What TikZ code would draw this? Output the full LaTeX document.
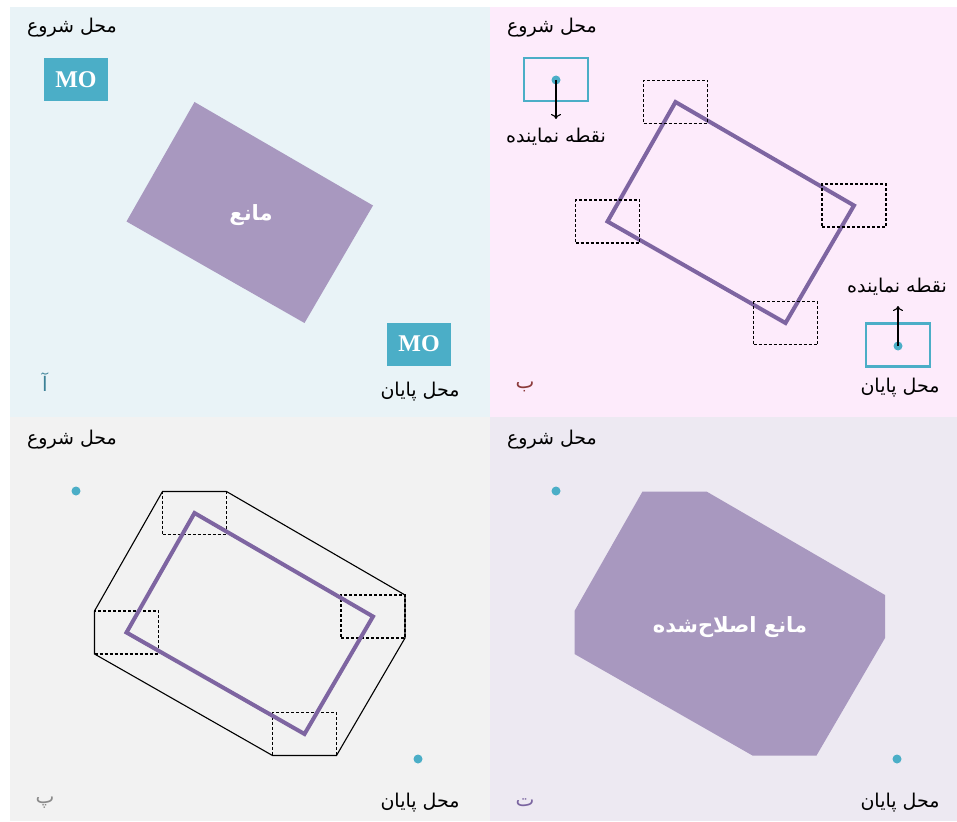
\documentclass[tikz,border=0pt]{standalone}
\usepackage{fontspec}
\TeXXeTstate=1
\newfontfamily\fa[Script=Arabic]{DejaVu Sans}
\newfontfamily\moserif{Liberation Serif}
\usetikzlibrary{arrows.meta,calc}
\definecolor{bgA}{HTML}{E9F3F7}
\definecolor{bgB}{HTML}{FDEBFB}
\definecolor{bgC}{HTML}{F2F2F2}
\definecolor{bgD}{HTML}{EDE9F2}
\definecolor{obs}{HTML}{A898BF}
\definecolor{obsline}{HTML}{7E65A1}
\definecolor{tealc}{HTML}{4BAEC7}
\definecolor{letA}{HTML}{3C8197}
\definecolor{letB}{HTML}{8B3A3A}
\definecolor{letC}{HTML}{8A8A8A}
\definecolor{letD}{HTML}{7A64A0}
\tikzset{
  fatext/.style={font=\fa\fontsize{19}{22}\selectfont, text=black, inner sep=0pt},
  obstext/.style={font=\fa\bfseries\fontsize{21}{24}\selectfont, text=white, inner sep=0pt},
  lettext/.style={font=\fa\fontsize{20}{22}\selectfont, inner sep=0pt},
  mobox/.style={fill=tealc, minimum width=64pt, minimum height=43pt, inner sep=0pt, text=white, font=\moserif\bfseries\fontsize{24}{24}\selectfont},
  robox/.style={draw=tealc, line width=2.2pt, minimum width=64pt, minimum height=43pt, inner sep=0pt},
  cornerbox/.style={draw=black, line width=1.6pt, dash pattern=on 3pt off 2pt, minimum width=64pt, minimum height=43pt, inner sep=0pt, outer sep=0pt},
  hullbox/.style={minimum width=64pt, minimum height=43pt, inner sep=0pt, outer sep=0pt},
  tdot/.style={circle, fill=tealc, inner sep=0pt, minimum size=9pt},
  obsout/.style={draw=obsline, line width=4pt, line join=miter},
  hull/.style={draw=black, line width=1.1pt},
  reparrow/.style={draw=black, line width=1.1pt, -{To[length=5pt,width=10pt]}},
}
\begin{document}
\begin{tikzpicture}[x=1pt,y=-1pt]
\useasboundingbox (0,0) rectangle (957,821);
\fill[white] (0,0) rectangle (957,821);
% backgrounds
\fill[bgA] (10,7) rectangle (490,417);
\fill[bgB] (490,7) rectangle (957,417);
\fill[bgC] (10,417) rectangle (490,821);
\fill[bgD] (490,417) rectangle (957,821);

% ---------- panel A ----------
\coordinate (aT) at (194.5,102);
\coordinate (aR) at (373,205.5);
\coordinate (aB) at (304.5,323);
\coordinate (aL) at (126.5,221.5);
\fill[obs] (aT) -- (aR) -- (aB) -- (aL) -- cycle;
\node[obstext] (aObs) at (251,215) {\beginR مانع\endR};
\node[mobox] (aMOs) at (76,79.5) {MO};
\node[mobox] (aMOe) at (419,344) {MO};
\node[fatext] (aStart) at (72,28) {\beginR محل شروع\endR};
\node[fatext] (aEnd) at (420,392) {\beginR محل پایان\endR};
\node[lettext, text=letA] (aLet) at (45,382) {\beginR آ\endR};

% ---------- panel B ----------
\coordinate (bT) at (675.5,102);
\coordinate (bR) at (854,205.5);
\coordinate (bB) at (785.5,323);
\coordinate (bL) at (607.5,221.5);
\draw[obsout] (bT) -- (bR) -- (bB) -- (bL) -- cycle;
\node[cornerbox] (bcT) at (bT) {};
\node[cornerbox] (bcR) at (bR) {};
\node[cornerbox] (bcB) at (bB) {};
\node[cornerbox] (bcL) at (bL) {};
\node[robox] (bRs) at (556,79.5) {};
\node[tdot] (bDs) at (556,80) {};
\coordinate (bAs) at (556,119);
\draw[reparrow] (bDs.center) -- (bAs);
\node[fatext] (bRepS) at (556,137) {\beginR نقطه نماینده\endR};
\node[robox] (bRe) at (898,345) {};
\node[tdot] (bDe) at (898,346) {};
\coordinate (bAe) at (898,306);
\draw[reparrow] (bDe.center) -- (bAe);
\node[fatext] (bRepE) at (897,287) {\beginR نقطه نماینده\endR};
\node[fatext] (bStart) at (552,28) {\beginR محل شروع\endR};
\node[fatext] (bEnd) at (900,388) {\beginR محل پایان\endR};
\node[lettext, text=letB] (bLet) at (525,387) {\beginR ب\endR};

% ---------- panel C ----------
\coordinate (cT) at (194.5,513);
\coordinate (cR) at (373,616.5);
\coordinate (cB) at (304.5,734);
\coordinate (cL) at (126.5,632.5);
\node[cornerbox] (ccT) at (cT) {};
\node[cornerbox] (ccR) at (cR) {};
\node[cornerbox] (ccB) at (cB) {};
\node[cornerbox] (ccL) at (cL) {};
\draw[hull] (ccT.north west) -- (ccT.north east) -- (ccR.north east) -- (ccR.south east)
  -- (ccB.south east) -- (ccB.south west) -- (ccL.south west) -- (ccL.north west) -- cycle;
\draw[obsout] (cT) -- (cR) -- (cB) -- (cL) -- cycle;
\node[tdot] (cDs) at (76,491) {};
\node[tdot] (cDe) at (418,759) {};
\node[fatext] (cStart) at (72,440) {\beginR محل شروع\endR};
\node[fatext] (cEnd) at (420,803) {\beginR محل پایان\endR};
\node[lettext, text=letC] (cLet) at (45,803) {\beginR پ\endR};

% ---------- panel D ----------
\coordinate (dT) at (674.5,513);
\coordinate (dR) at (853,616.5);
\coordinate (dB) at (784.5,734);
\coordinate (dL) at (606.5,632.5);
\node[hullbox] (dhT) at (dT) {};
\node[hullbox] (dhR) at (dR) {};
\node[hullbox] (dhB) at (dB) {};
\node[hullbox] (dhL) at (dL) {};
\fill[obs] (dhT.north west) -- (dhT.north east) -- (dhR.north east) -- (dhR.south east)
  -- (dhB.south east) -- (dhB.south west) -- (dhL.south west) -- (dhL.north west) -- cycle;
\node[obstext] (dObs) at (730,627) {\beginR مانع اصلاح‌شده\endR};
\node[tdot] (dDs) at (556,491) {};
\node[tdot] (dDe) at (897,759) {};
\node[fatext] (dStart) at (552,440) {\beginR محل شروع\endR};
\node[fatext] (dEnd) at (900,803) {\beginR محل پایان\endR};
\node[lettext, text=letD] (dLet) at (525,803) {\beginR ت\endR};
\end{tikzpicture}
\end{document}
